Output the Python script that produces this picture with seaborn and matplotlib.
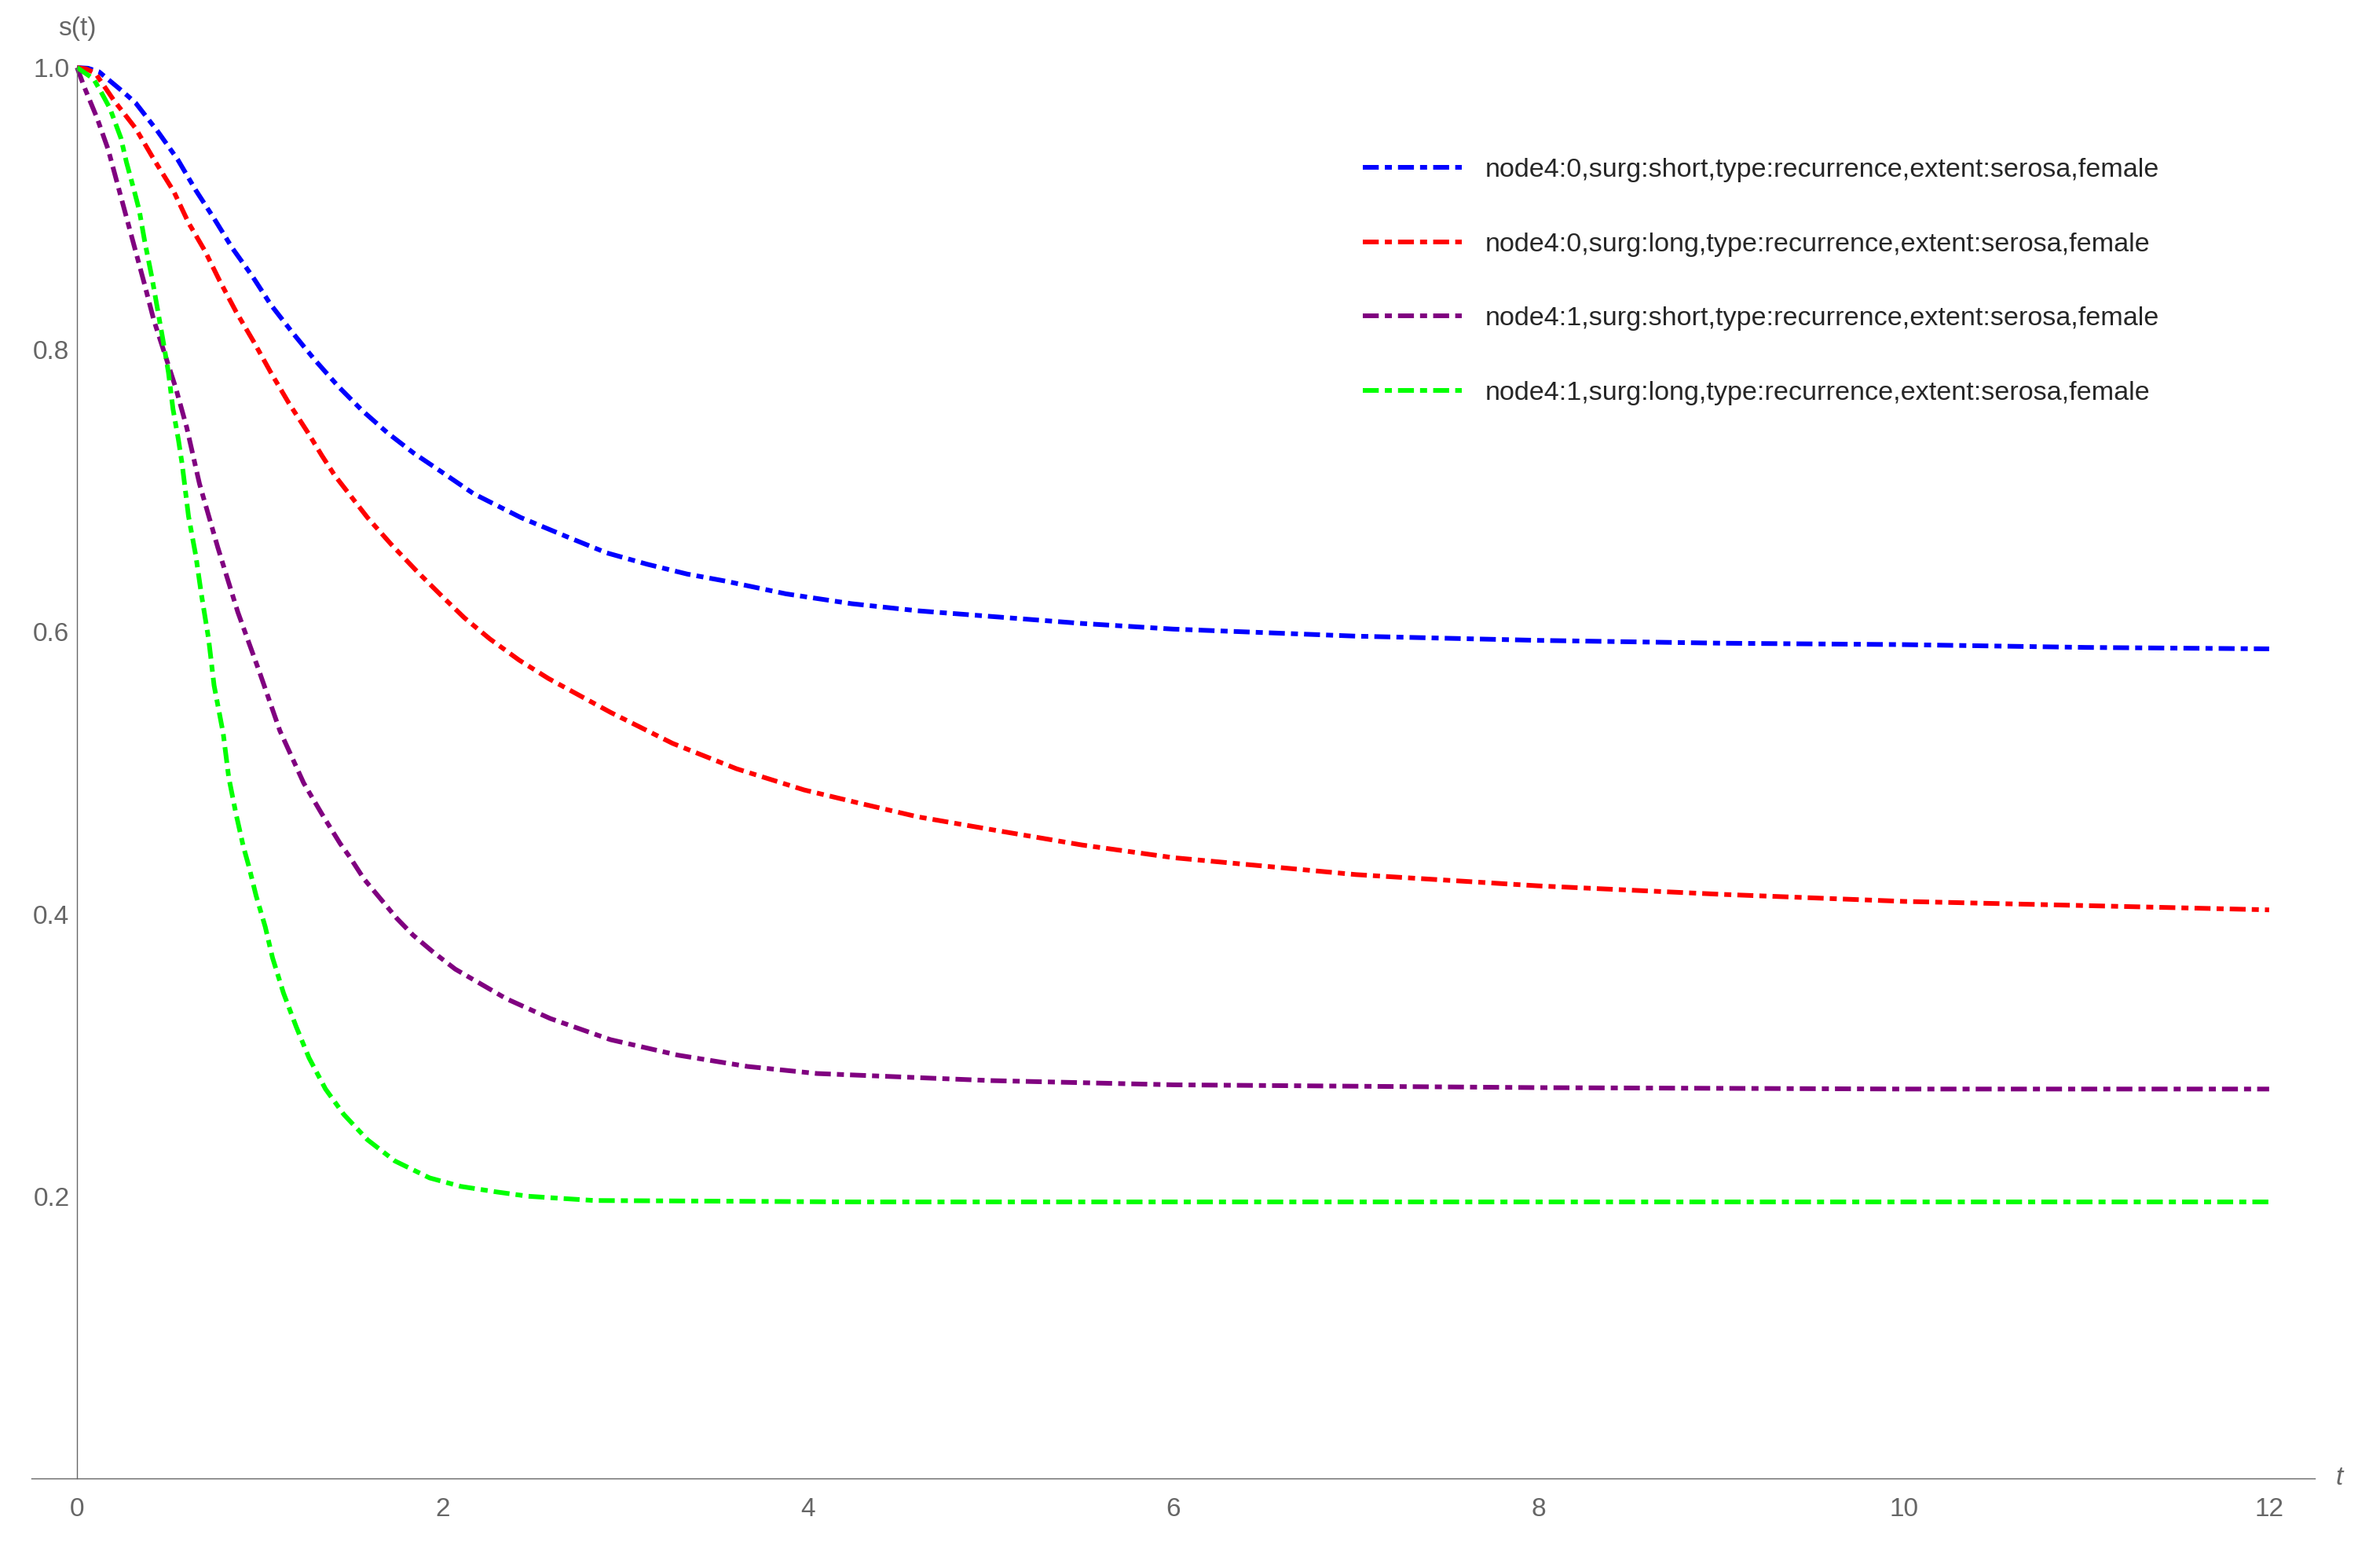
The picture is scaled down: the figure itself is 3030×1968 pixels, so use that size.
import numpy as np
import pandas as pd
import matplotlib
matplotlib.use("Agg")
import matplotlib.pyplot as plt
import seaborn as sns
from matplotlib.ticker import FixedLocator

# curves
t_blue = [0, 0.06, 0.12, 0.25, 0.32, 0.44, 0.55, 0.65, 0.75, 0.85, 0.96, 1.06, 1.18, 1.3,
          1.43, 1.56, 1.7, 1.84, 2.0, 2.17, 2.43, 2.69, 2.9, 3.12, 3.34, 3.55, 3.88, 4.24,
          4.6, 5, 5.5, 6, 7, 8, 9, 10, 11, 12]
s_blue = [1.0, 0.9995, 0.997, 0.983, 0.975, 0.955, 0.935, 0.913, 0.893, 0.872, 0.852,
          0.832, 0.812, 0.793, 0.774, 0.757, 0.741, 0.727, 0.713, 0.698, 0.681, 0.667,
          0.656, 0.648, 0.641, 0.636, 0.627, 0.620, 0.615, 0.611, 0.606, 0.602, 0.597,
          0.594, 0.592, 0.591, 0.589, 0.588]

t_red = [0, 0.05, 0.1, 0.2, 0.32, 0.42, 0.53, 0.61, 0.7, 0.78, 0.87, 0.97, 1.06, 1.16,
         1.26, 1.34, 1.41, 1.59, 1.72, 1.86, 2.0, 2.12, 2.26, 2.42, 2.58, 2.75, 2.92, 3.26,
         3.61, 3.98, 4.27, 4.6, 5, 5.5, 6, 7, 8, 9, 10, 11, 12]
s_red = [1.0, 0.999, 0.996, 0.977, 0.957, 0.935, 0.912, 0.890, 0.870, 0.849, 0.827,
         0.805, 0.784, 0.762, 0.742, 0.725, 0.711, 0.681, 0.662, 0.643, 0.625, 0.610,
         0.595, 0.580, 0.567, 0.555, 0.543, 0.521, 0.503, 0.488, 0.479, 0.469, 0.460,
         0.449, 0.440, 0.428, 0.420, 0.414, 0.409, 0.406, 0.403]

t_purple = [0, 0.04, 0.11, 0.17, 0.22, 0.27, 0.32, 0.37, 0.42, 0.48, 0.54, 0.6, 0.67,
            0.77, 0.88, 1.0, 1.11, 1.24, 1.34, 1.44, 1.49, 1.57, 1.66, 1.75, 1.84, 1.95,
            2.07, 2.15, 2.35, 2.59, 2.92, 3.29, 3.67, 4.05, 4.24, 5, 6, 8, 10, 12]
s_purple = [1.0, 0.986, 0.964, 0.942, 0.918, 0.894, 0.870, 0.846, 0.821, 0.797, 0.773,
            0.745, 0.705, 0.660, 0.614, 0.571, 0.530, 0.493, 0.471, 0.450, 0.441, 0.425,
            0.411, 0.397, 0.385, 0.373, 0.361, 0.355, 0.340, 0.326, 0.311, 0.300, 0.292,
            0.287, 0.286, 0.282, 0.279, 0.277, 0.276, 0.276]

t_green = [0, 0.09, 0.13, 0.18, 0.24, 0.27, 0.31, 0.34, 0.37, 0.41, 0.44, 0.47, 0.5,
           0.525, 0.555, 0.575, 0.61, 0.65, 0.68, 0.72, 0.75, 0.8, 0.83, 0.87, 0.91, 0.94,
           0.98, 1.03, 1.07, 1.13, 1.2, 1.27, 1.36, 1.46, 1.59, 1.74, 1.93, 2.1, 2.3,
           2.47, 2.83, 3.55, 4.24, 6, 8, 10, 12]
s_green = [1.0, 0.992, 0.983, 0.971, 0.950, 0.933, 0.914, 0.899, 0.877, 0.851, 0.829,
           0.807, 0.784, 0.758, 0.736, 0.719, 0.682, 0.654, 0.627, 0.595, 0.562, 0.528,
           0.497, 0.471, 0.448, 0.434, 0.413, 0.391, 0.369, 0.344, 0.320, 0.298, 0.276,
           0.258, 0.240, 0.225, 0.213, 0.207, 0.203, 0.200, 0.197, 0.1965, 0.196, 0.196,
           0.196, 0.196, 0.196]

labels = [
    "node4:0,surg:short,type:recurrence,extent:serosa,female",
    "node4:0,surg:long,type:recurrence,extent:serosa,female",
    "node4:1,surg:short,type:recurrence,extent:serosa,female",
    "node4:1,surg:long,type:recurrence,extent:serosa,female",
]
colors = ["#0000ff", "#ff0000", "#800080", "#00ff00"]

x_major = [0, 2, 4, 6, 8, 10, 12]
y_major = [0.2, 0.4, 0.6, 0.8, 1.0]

sns.set_style("white")
plt.rcParams["font.family"] = ["Liberation Sans", "DejaVu Sans"]
grey = "#666666"
dash = [3.4, 1.3, 1.5, 1.3]

fig = plt.figure(figsize=(15.15, 9.84), dpi=200)
ax = fig.add_axes([40 / 3030, 1 - 1882 / 1968, (2947 - 40) / 3030, (1882 - 86) / 1968])

series = [(t_blue, s_blue), (t_red, s_red), (t_purple, s_purple), (t_green, s_green)]
for (tt, ss), lab, col in zip(series, labels, colors):
    df = pd.DataFrame({"t": tt, "s": ss})
    sns.lineplot(data=df, x="t", y="s", ax=ax, color=col, linewidth=2.15, label=lab,
                 sort=False, estimator=None)

for ln in ax.get_lines():
    ln.set_dashes(dash)
    ln.set_clip_on(False)

ax.set_xlim(-0.25, 12.25)
ax.set_ylim(0, 1.0)

for side in ["top", "right"]:
    ax.spines[side].set_visible(False)
ax.spines["left"].set_position(("data", 0))
for side in ["left", "bottom"]:
    ax.spines[side].set_color(grey)
    ax.spines[side].set_linewidth(0.5)

ax.xaxis.set_major_locator(FixedLocator(x_major))
ax.yaxis.set_major_locator(FixedLocator(y_major))
ax.xaxis.set_minor_locator(FixedLocator([v / 2 for v in range(1, 25) if v % 4 != 0]))
ax.yaxis.set_minor_locator(FixedLocator([v / 20 for v in range(1, 20) if v % 4 != 0]))
ax.set_xticklabels([str(v) for v in x_major])
ax.set_yticklabels([f"{v:.1f}" for v in y_major])
ax.tick_params(which="both", direction="in", color=grey, width=0.5, labelcolor=grey,
               labelsize=12)
ax.tick_params(which="major", length=5)
ax.tick_params(which="minor", length=2.9)
ax.tick_params(axis="x", pad=8.5)
ax.tick_params(axis="y", pad=3.5)
ax.set_xlabel("")
ax.set_ylabel("")

ax.annotate("s(t)", xy=(0, 1.0), xycoords="data", xytext=(0, 18),
            textcoords="offset points", ha="center", va="center", color=grey, fontsize=12)
ax.annotate("t", xy=(1, 0), xycoords="axes fraction", xytext=(11.2, 0),
            textcoords="offset points", ha="center", va="center", color=grey,
            fontsize=12, style="italic")

leg = ax.legend(loc="upper left", bbox_to_anchor=(1735 / 3030, 1 - 201 / 1968),
                bbox_transform=fig.transFigure, frameon=False, fontsize=12.3,
                handlelength=3.68, handletextpad=0.88, labelspacing=1.86,
                borderpad=0, borderaxespad=0)
for h in leg.legend_handles:
    h.set_dashes(dash)

fig.savefig("out.png", dpi=200, facecolor="white")
